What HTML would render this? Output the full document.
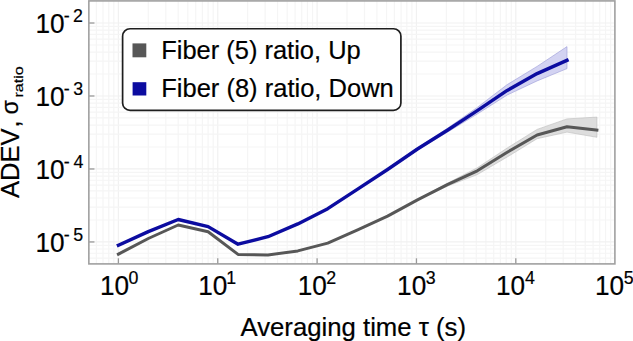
<!DOCTYPE html>
<html><head><meta charset="utf-8"><style>
html,body{margin:0;padding:0;background:#fff;width:633px;height:341px;overflow:hidden}
svg{display:block}
</style></head><body>
<svg width="633" height="341" viewBox="0 0 633 341">
<rect x="0" y="0" width="633" height="341" fill="#fff"/>
<g stroke-width="1.2"><line x1="96.36" y1="0.9" x2="96.36" y2="263.9" stroke="#f5f5f5"/><line x1="103.01" y1="0.9" x2="103.01" y2="263.9" stroke="#f5f5f5"/><line x1="108.77" y1="0.9" x2="108.77" y2="263.9" stroke="#f5f5f5"/><line x1="113.85" y1="0.9" x2="113.85" y2="263.9" stroke="#f5f5f5"/><line x1="118.40" y1="0.9" x2="118.40" y2="263.9" stroke="#f1f1f1"/><line x1="148.31" y1="0.9" x2="148.31" y2="263.9" stroke="#f5f5f5"/><line x1="165.80" y1="0.9" x2="165.80" y2="263.9" stroke="#f5f5f5"/><line x1="178.21" y1="0.9" x2="178.21" y2="263.9" stroke="#f5f5f5"/><line x1="187.84" y1="0.9" x2="187.84" y2="263.9" stroke="#f5f5f5"/><line x1="195.71" y1="0.9" x2="195.71" y2="263.9" stroke="#f5f5f5"/><line x1="202.36" y1="0.9" x2="202.36" y2="263.9" stroke="#f5f5f5"/><line x1="208.12" y1="0.9" x2="208.12" y2="263.9" stroke="#f5f5f5"/><line x1="213.20" y1="0.9" x2="213.20" y2="263.9" stroke="#f5f5f5"/><line x1="217.75" y1="0.9" x2="217.75" y2="263.9" stroke="#f1f1f1"/><line x1="247.66" y1="0.9" x2="247.66" y2="263.9" stroke="#f5f5f5"/><line x1="265.15" y1="0.9" x2="265.15" y2="263.9" stroke="#f5f5f5"/><line x1="277.56" y1="0.9" x2="277.56" y2="263.9" stroke="#f5f5f5"/><line x1="287.19" y1="0.9" x2="287.19" y2="263.9" stroke="#f5f5f5"/><line x1="295.06" y1="0.9" x2="295.06" y2="263.9" stroke="#f5f5f5"/><line x1="301.71" y1="0.9" x2="301.71" y2="263.9" stroke="#f5f5f5"/><line x1="307.47" y1="0.9" x2="307.47" y2="263.9" stroke="#f5f5f5"/><line x1="312.55" y1="0.9" x2="312.55" y2="263.9" stroke="#f5f5f5"/><line x1="317.10" y1="0.9" x2="317.10" y2="263.9" stroke="#f1f1f1"/><line x1="347.01" y1="0.9" x2="347.01" y2="263.9" stroke="#f5f5f5"/><line x1="364.50" y1="0.9" x2="364.50" y2="263.9" stroke="#f5f5f5"/><line x1="376.91" y1="0.9" x2="376.91" y2="263.9" stroke="#f5f5f5"/><line x1="386.54" y1="0.9" x2="386.54" y2="263.9" stroke="#f5f5f5"/><line x1="394.41" y1="0.9" x2="394.41" y2="263.9" stroke="#f5f5f5"/><line x1="401.06" y1="0.9" x2="401.06" y2="263.9" stroke="#f5f5f5"/><line x1="406.82" y1="0.9" x2="406.82" y2="263.9" stroke="#f5f5f5"/><line x1="411.90" y1="0.9" x2="411.90" y2="263.9" stroke="#f5f5f5"/><line x1="416.45" y1="0.9" x2="416.45" y2="263.9" stroke="#f1f1f1"/><line x1="446.36" y1="0.9" x2="446.36" y2="263.9" stroke="#f5f5f5"/><line x1="463.85" y1="0.9" x2="463.85" y2="263.9" stroke="#f5f5f5"/><line x1="476.26" y1="0.9" x2="476.26" y2="263.9" stroke="#f5f5f5"/><line x1="485.89" y1="0.9" x2="485.89" y2="263.9" stroke="#f5f5f5"/><line x1="493.76" y1="0.9" x2="493.76" y2="263.9" stroke="#f5f5f5"/><line x1="500.41" y1="0.9" x2="500.41" y2="263.9" stroke="#f5f5f5"/><line x1="506.17" y1="0.9" x2="506.17" y2="263.9" stroke="#f5f5f5"/><line x1="511.25" y1="0.9" x2="511.25" y2="263.9" stroke="#f5f5f5"/><line x1="515.80" y1="0.9" x2="515.80" y2="263.9" stroke="#f1f1f1"/><line x1="545.71" y1="0.9" x2="545.71" y2="263.9" stroke="#f5f5f5"/><line x1="563.20" y1="0.9" x2="563.20" y2="263.9" stroke="#f5f5f5"/><line x1="575.61" y1="0.9" x2="575.61" y2="263.9" stroke="#f5f5f5"/><line x1="585.24" y1="0.9" x2="585.24" y2="263.9" stroke="#f5f5f5"/><line x1="593.11" y1="0.9" x2="593.11" y2="263.9" stroke="#f5f5f5"/><line x1="599.76" y1="0.9" x2="599.76" y2="263.9" stroke="#f5f5f5"/><line x1="605.52" y1="0.9" x2="605.52" y2="263.9" stroke="#f5f5f5"/><line x1="610.60" y1="0.9" x2="610.60" y2="263.9" stroke="#f5f5f5"/><line x1="88.85" y1="258.14" x2="614.9" y2="258.14" stroke="#f5f5f5"/><line x1="88.85" y1="253.25" x2="614.9" y2="253.25" stroke="#f5f5f5"/><line x1="88.85" y1="249.02" x2="614.9" y2="249.02" stroke="#f5f5f5"/><line x1="88.85" y1="245.29" x2="614.9" y2="245.29" stroke="#f5f5f5"/><line x1="88.85" y1="241.95" x2="614.9" y2="241.95" stroke="#f1f1f1"/><line x1="88.85" y1="219.98" x2="614.9" y2="219.98" stroke="#f5f5f5"/><line x1="88.85" y1="207.13" x2="614.9" y2="207.13" stroke="#f5f5f5"/><line x1="88.85" y1="198.01" x2="614.9" y2="198.01" stroke="#f5f5f5"/><line x1="88.85" y1="190.94" x2="614.9" y2="190.94" stroke="#f5f5f5"/><line x1="88.85" y1="185.16" x2="614.9" y2="185.16" stroke="#f5f5f5"/><line x1="88.85" y1="180.27" x2="614.9" y2="180.27" stroke="#f5f5f5"/><line x1="88.85" y1="176.04" x2="614.9" y2="176.04" stroke="#f5f5f5"/><line x1="88.85" y1="172.31" x2="614.9" y2="172.31" stroke="#f5f5f5"/><line x1="88.85" y1="168.97" x2="614.9" y2="168.97" stroke="#f1f1f1"/><line x1="88.85" y1="147.00" x2="614.9" y2="147.00" stroke="#f5f5f5"/><line x1="88.85" y1="134.15" x2="614.9" y2="134.15" stroke="#f5f5f5"/><line x1="88.85" y1="125.03" x2="614.9" y2="125.03" stroke="#f5f5f5"/><line x1="88.85" y1="117.96" x2="614.9" y2="117.96" stroke="#f5f5f5"/><line x1="88.85" y1="112.18" x2="614.9" y2="112.18" stroke="#f5f5f5"/><line x1="88.85" y1="107.29" x2="614.9" y2="107.29" stroke="#f5f5f5"/><line x1="88.85" y1="103.06" x2="614.9" y2="103.06" stroke="#f5f5f5"/><line x1="88.85" y1="99.33" x2="614.9" y2="99.33" stroke="#f5f5f5"/><line x1="88.85" y1="95.99" x2="614.9" y2="95.99" stroke="#f1f1f1"/><line x1="88.85" y1="74.02" x2="614.9" y2="74.02" stroke="#f5f5f5"/><line x1="88.85" y1="61.17" x2="614.9" y2="61.17" stroke="#f5f5f5"/><line x1="88.85" y1="52.05" x2="614.9" y2="52.05" stroke="#f5f5f5"/><line x1="88.85" y1="44.98" x2="614.9" y2="44.98" stroke="#f5f5f5"/><line x1="88.85" y1="39.20" x2="614.9" y2="39.20" stroke="#f5f5f5"/><line x1="88.85" y1="34.31" x2="614.9" y2="34.31" stroke="#f5f5f5"/><line x1="88.85" y1="30.08" x2="614.9" y2="30.08" stroke="#f5f5f5"/><line x1="88.85" y1="26.35" x2="614.9" y2="26.35" stroke="#f5f5f5"/><line x1="88.85" y1="23.01" x2="614.9" y2="23.01" stroke="#f1f1f1"/></g>
<path d="M118.40,253.90 L148.31,238.20 L178.21,224.70 L208.12,231.40 L238.03,254.10 L267.94,254.60 L297.84,250.60 L327.75,242.80 L357.66,229.60 L387.57,215.80 L417.47,199.60 L447.38,183.20 L477.29,167.80 L507.20,148.00 L537.10,129.40 L567.01,118.90 L596.92,117.10 L596.92,137.30 L567.01,132.10 L537.10,138.70 L507.20,157.00 L477.29,174.60 L447.38,186.20 L417.47,200.20 L387.57,216.40 L357.66,230.20 L327.75,243.40 L297.84,251.20 L267.94,255.20 L238.03,254.70 L208.12,232.00 L178.21,225.30 L148.31,238.80 L118.40,254.50 Z" fill="#dddddd" stroke="#bcbcbc" stroke-width="0.6"/>
<path d="M118.40,244.90 L148.31,231.30 L178.21,219.20 L208.12,226.30 L238.03,243.90 L267.94,236.40 L297.84,223.60 L327.75,208.40 L357.66,188.90 L387.57,169.20 L417.47,147.80 L447.38,128.30 L477.29,107.40 L507.20,84.60 L537.10,66.40 L567.01,46.60 L567.01,68.60 L537.10,80.90 L507.20,95.00 L477.29,114.00 L447.38,132.20 L417.47,150.20 L387.57,169.80 L357.66,189.50 L327.75,209.00 L297.84,224.20 L267.94,237.00 L238.03,244.50 L208.12,226.90 L178.21,219.80 L148.31,231.90 L118.40,245.50 Z" fill="#d3d3f2" stroke="#9a9ad6" stroke-width="0.6"/>
<path d="M118.40,254.20 L148.31,238.50 L178.21,225.00 L208.12,231.70 L238.03,254.40 L267.94,254.90 L297.84,250.90 L327.75,243.10 L357.66,229.90 L387.57,216.10 L417.47,199.90 L447.38,184.70 L477.29,170.80 L507.20,152.30 L537.10,135.00 L567.01,126.80 L596.92,130.00" fill="none" stroke="#575757" stroke-width="3.0" stroke-linejoin="round" stroke-linecap="square"/>
<path d="M118.40,245.20 L148.31,231.60 L178.21,219.50 L208.12,226.60 L238.03,244.20 L267.94,236.70 L297.84,223.90 L327.75,208.70 L357.66,189.20 L387.57,169.50 L417.47,149.00 L447.38,130.20 L477.29,110.70 L507.20,90.40 L537.10,73.60 L567.01,60.30" fill="none" stroke="#0c0ca0" stroke-width="3.4" stroke-linejoin="round" stroke-linecap="square"/>
<g stroke="#999999" stroke-width="1.3"><line x1="118.40" y1="263.9" x2="118.40" y2="258.29999999999995"/><line x1="217.75" y1="263.9" x2="217.75" y2="258.29999999999995"/><line x1="317.10" y1="263.9" x2="317.10" y2="258.29999999999995"/><line x1="416.45" y1="263.9" x2="416.45" y2="258.29999999999995"/><line x1="515.80" y1="263.9" x2="515.80" y2="258.29999999999995"/><line x1="88.85" y1="23.01" x2="94.44999999999999" y2="23.01"/><line x1="88.85" y1="95.99" x2="94.44999999999999" y2="95.99"/><line x1="88.85" y1="168.97" x2="94.44999999999999" y2="168.97"/><line x1="88.85" y1="241.95" x2="94.44999999999999" y2="241.95"/></g>
<rect x="88.85" y="0.9" width="526.05" height="263.00" fill="none" stroke="#a0a0a0" stroke-width="1.6"/>
<rect x="122.6" y="28.75" width="278.3" height="81.65" rx="7.5" ry="7.5" fill="#fff" stroke="#1e1e1e" stroke-width="1.7"/>
<rect x="132.5" y="43.4" width="13.8" height="13.9" fill="#575757"/>
<rect x="132.6" y="82.2" width="13.7" height="13.3" fill="#0c0ca0"/>
<g font-family="Liberation Sans, sans-serif" fill="#000" stroke="#000" stroke-width="0.2">
<text x="161.20" y="58.90" font-size="25.8" textLength="199.50" lengthAdjust="spacingAndGlyphs">Fiber (5) ratio, Up</text>
<text x="161.20" y="97.10" font-size="25.8" textLength="232.60" lengthAdjust="spacingAndGlyphs">Fiber (8) ratio, Down</text>
<text x="35.51" y="32.96" font-size="27.2" textLength="29.12" lengthAdjust="spacingAndGlyphs">10</text><text x="63.71" y="21.76" font-size="17.8" textLength="5.93" lengthAdjust="spacingAndGlyphs">-</text><text x="73.10" y="21.76" font-size="17.8">2</text><text x="35.51" y="105.94" font-size="27.2" textLength="29.12" lengthAdjust="spacingAndGlyphs">10</text><text x="63.71" y="94.74" font-size="17.8" textLength="5.93" lengthAdjust="spacingAndGlyphs">-</text><text x="73.32" y="94.74" font-size="17.8">3</text><text x="35.51" y="178.92" font-size="27.2" textLength="29.12" lengthAdjust="spacingAndGlyphs">10</text><text x="63.71" y="167.72" font-size="17.8" textLength="5.93" lengthAdjust="spacingAndGlyphs">-</text><text x="73.59" y="167.72" font-size="17.8">4</text><text x="35.51" y="251.90" font-size="27.2" textLength="29.12" lengthAdjust="spacingAndGlyphs">10</text><text x="63.71" y="240.70" font-size="17.8" textLength="5.93" lengthAdjust="spacingAndGlyphs">-</text><text x="73.29" y="240.70" font-size="17.8">5</text><text x="99.91" y="295.40" font-size="27.2" textLength="29.12" lengthAdjust="spacingAndGlyphs">10</text><text x="128.60" y="284.00" font-size="17.8">0</text><text x="198.31" y="295.40" font-size="27.2" textLength="29.12" lengthAdjust="spacingAndGlyphs">10</text><text x="226.34" y="284.00" font-size="17.8">1</text><text x="297.81" y="295.40" font-size="27.2" textLength="29.12" lengthAdjust="spacingAndGlyphs">10</text><text x="326.30" y="284.00" font-size="17.8">2</text><text x="397.11" y="295.40" font-size="27.2" textLength="29.12" lengthAdjust="spacingAndGlyphs">10</text><text x="425.82" y="284.00" font-size="17.8">3</text><text x="496.01" y="295.40" font-size="27.2" textLength="29.12" lengthAdjust="spacingAndGlyphs">10</text><text x="524.99" y="284.00" font-size="17.8">4</text><text x="595.01" y="295.40" font-size="27.2" textLength="29.12" lengthAdjust="spacingAndGlyphs">10</text><text x="623.69" y="284.00" font-size="17.8">5</text>
<text x="240.50" y="335.60" font-size="25.8" textLength="225.50" lengthAdjust="spacingAndGlyphs">Averaging time τ (s)</text>
<g transform="translate(18.7,198) rotate(-90)">
<text x="0.00" y="0.00" font-size="25.5" textLength="69.50" lengthAdjust="spacingAndGlyphs">ADEV</text>
<text x="70.50" y="0.00" font-size="25.5">,</text>
<text x="83.60" y="-1.20" font-size="23" textLength="14.40" lengthAdjust="spacingAndGlyphs">σ</text>
<text x="100.40" y="3.90" font-size="13.2" textLength="31.40" lengthAdjust="spacingAndGlyphs">ratio</text>
</g>
</g>
</svg>
</body></html>
